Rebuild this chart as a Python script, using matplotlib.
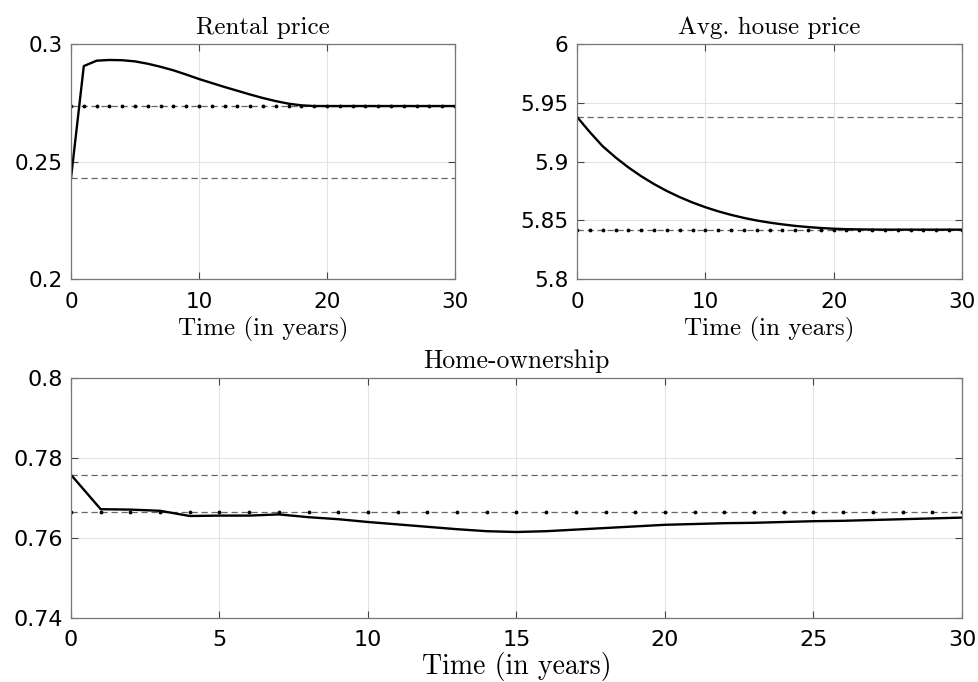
import matplotlib
matplotlib.use("Agg")
import matplotlib.pyplot as plt
import numpy as np

# time axis (years)
years = np.arange(0, 31)

# rental price: transition, initial and final steady states
rent_path = [0.2429, 0.2906, 0.2929, 0.2932, 0.2931, 0.2926, 0.2916, 0.2903,
             0.2888, 0.2870, 0.2851, 0.2834, 0.2817, 0.2801, 0.2785, 0.2770,
             0.2757, 0.2746, 0.2739, 0.2736, 0.2736, 0.2736, 0.2736, 0.2736,
             0.2736, 0.2736, 0.2736, 0.2736, 0.2736, 0.2736, 0.2736]
rent_initial = 0.2429
rent_final = 0.2736

# average house price
house_path = [5.938, 5.925, 5.913, 5.9035, 5.8950, 5.8875, 5.8808, 5.8749,
              5.8697, 5.8651, 5.8611, 5.8576, 5.8546, 5.8520, 5.8498, 5.8480,
              5.8465, 5.8452, 5.8442, 5.8434, 5.8428, 5.8424, 5.8422, 5.8421,
              5.8420, 5.8420, 5.8420, 5.8420, 5.8420, 5.8420, 5.8420]
house_initial = 5.9379
house_final = 5.842

# home-ownership rate
own_path = [0.7758, 0.7672, 0.7671, 0.7668, 0.7655, 0.7656, 0.7656, 0.7659,
            0.7652, 0.7647, 0.7640, 0.7634, 0.7628, 0.7622, 0.7617, 0.7615,
            0.7617, 0.7621, 0.7625, 0.7629, 0.7633, 0.7635, 0.7637, 0.7638,
            0.7640, 0.7642, 0.7643, 0.7645, 0.7647, 0.7649, 0.7651]
own_initial = 0.7758
own_final = 0.7666

serif = ["cmr10", "DejaVu Serif"]
W, H = 979, 682


def panel(ax, path, initial, final, title, yticks, yticklabels, xticks,
          title_size=18, label_size=18, tick_size=15.5, label_pad=4):
    # initial steady state
    ax.plot(years, np.full(len(years), initial), linestyle="--",
            color="#666666", linewidth=0.9, dashes=(5, 3))
    # final steady state, dashed with a dot every year
    ax.plot(years, np.full(len(years), final), linestyle="--",
            color="#666666", linewidth=0.9, dashes=(5, 3),
            marker=".", markersize=3.5, markerfacecolor="black",
            markeredgecolor="black")
    # transition path
    ax.plot(years, path, color="black", linewidth=1.7)

    ax.set_xlim(0, 30)
    ax.set_ylim(yticks[0], yticks[-1])
    ax.set_xticks(xticks)
    ax.set_xticklabels([str(t) for t in xticks])
    ax.set_yticks(yticks)
    ax.set_yticklabels(yticklabels)
    ax.grid(True, color="#e3e3e3", linewidth=0.8)
    ax.set_axisbelow(True)
    ax.tick_params(direction="in", top=True, right=True, length=5,
                   width=0.8, color="#444444", labelsize=tick_size)
    ax.tick_params(axis="x", pad=9)
    ax.tick_params(axis="y", pad=6)
    for s in ax.spines.values():
        s.set_color("#777777")
        s.set_linewidth(0.9)
    ax.set_title(title, family=serif, fontsize=title_size, pad=7)
    ax.set_xlabel("Time (in years)", family=serif, fontsize=label_size,
                  labelpad=label_pad)


fig = plt.figure(figsize=(W / 100, H / 100), dpi=100)

ax1 = fig.add_axes([71 / W, (H - 279) / H, 384 / W, 235 / H])
ax2 = fig.add_axes([577 / W, (H - 279) / H, 385 / W, 235 / H])
ax3 = fig.add_axes([71 / W, (H - 618) / H, 891 / W, 240 / H])

panel(ax1, rent_path, rent_initial, rent_final, "Rental price",
      [0.2, 0.25, 0.3], ["0.2", "0.25", "0.3"], [0, 10, 20, 30])
panel(ax2, house_path, house_initial, house_final, "Avg. house price",
      [5.8, 5.85, 5.9, 5.95, 6.0], ["5.8", "5.85", "5.9", "5.95", "6"],
      [0, 10, 20, 30])
panel(ax3, own_path, own_initial, own_final, "Home-ownership",
      [0.74, 0.76, 0.78, 0.8], ["0.74", "0.76", "0.78", "0.8"],
      [0, 5, 10, 15, 20, 25, 30], title_size=18.5, label_size=20,
      tick_size=16, label_pad=1)

fig.savefig("out.png", dpi=100)
